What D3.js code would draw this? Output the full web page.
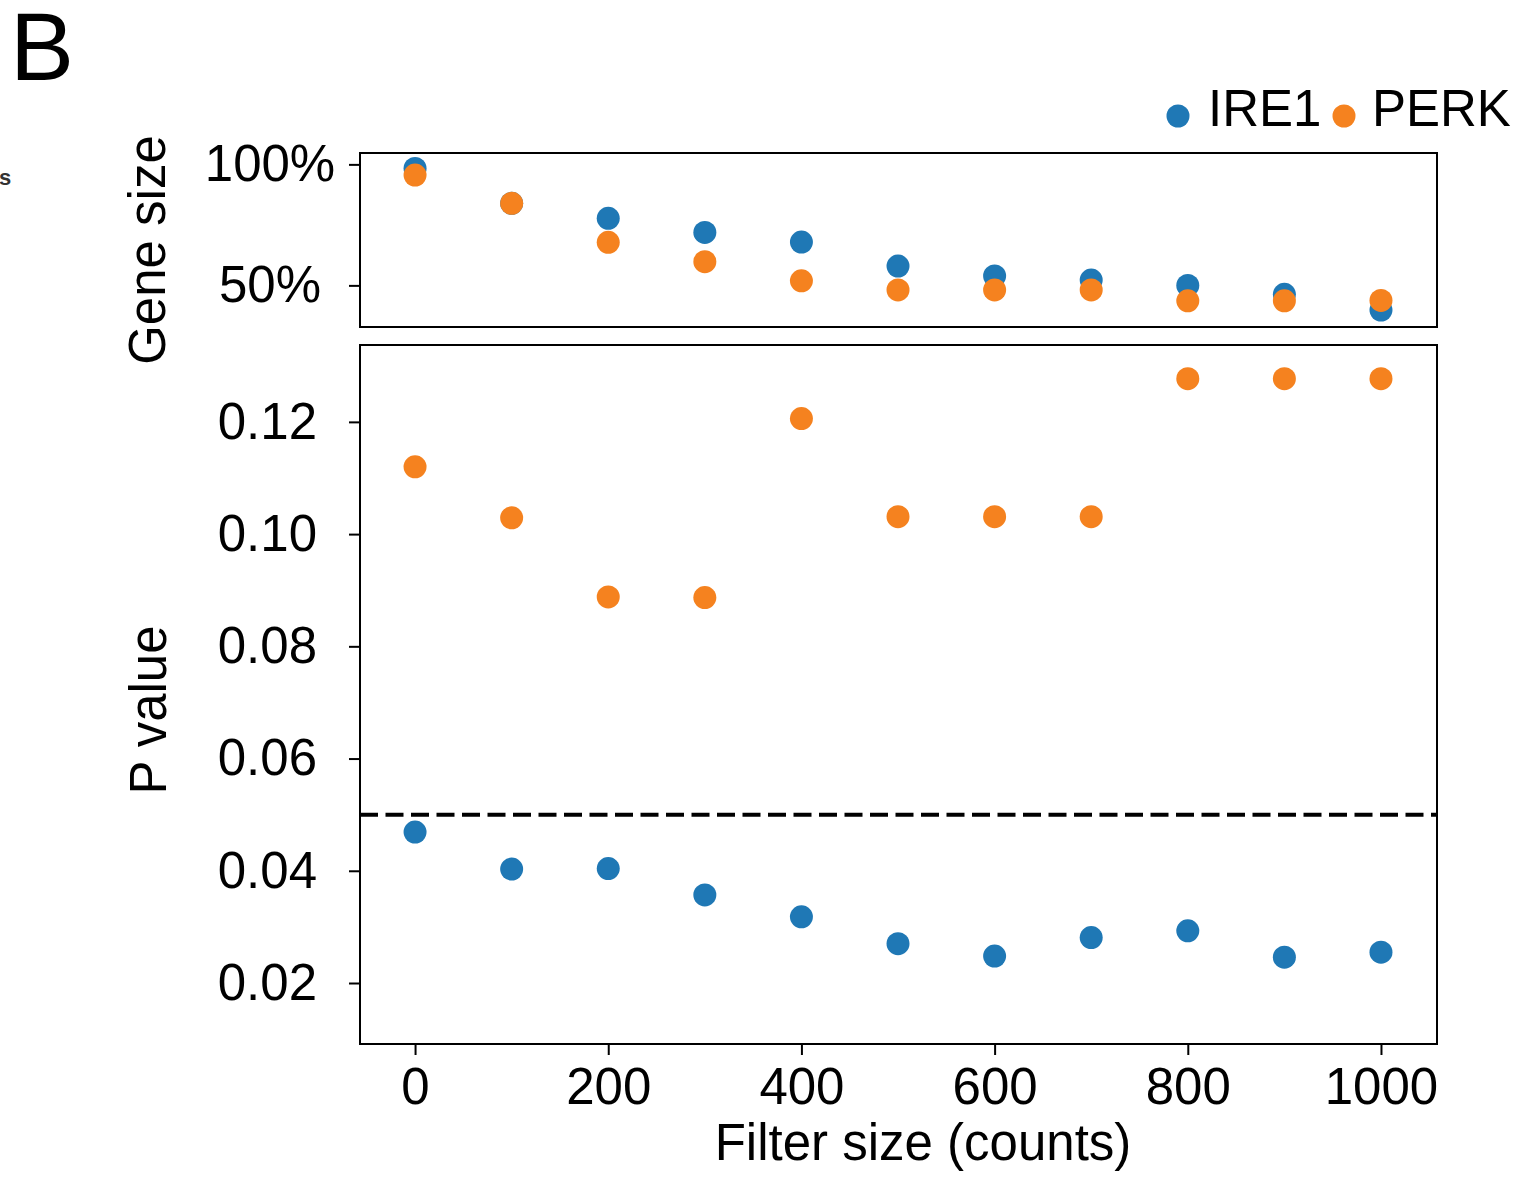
<!DOCTYPE html>
<html>
<head>
<meta charset="utf-8">
<script src="https://cdn.jsdelivr.net/npm/d3@7"></script>
<style>
  html, body { margin: 0; padding: 0; background: #fff; }
  svg { display: block; font-family: "Liberation Sans", Arial, Helvetica, sans-serif; }
</style>
</head>
<body>
<svg id="chart" width="1535" height="1177"></svg>
<script>
// Filter sizes (counts) on the shared x axis
const filterSizes = [0, 100, 200, 300, 400, 500, 600, 700, 800, 900, 1000];

// Gene size retained after filtering (%)
const geneSizeIRE1 = [98.3, 83.9, 77.7, 71.9, 67.9, 58.0, 53.9, 52.2, 50.0, 46.3, 39.8];
const geneSizePERK = [95.6, 83.9, 67.8, 59.8, 51.9, 48.1, 48.1, 48.1, 43.6, 43.6, 43.8];

// P values
const pValueIRE1 = [0.0469, 0.0403, 0.0404, 0.0357, 0.0318, 0.0270, 0.0248, 0.0281, 0.0293, 0.0246, 0.0255];
const pValuePERK = [0.1120, 0.1029, 0.0888, 0.0887, 0.1206, 0.1031, 0.1031, 0.1031, 0.1277, 0.1277, 0.1277];

const significance = 0.05;

// Tick values
const xTicks = [0, 200, 400, 600, 800, 1000];
const geneTicks = [50, 100];
const pTicks = [0.02, 0.04, 0.06, 0.08, 0.10, 0.12];

const colors = { IRE1: "#1f78b5", PERK: "#f5821f" };

const svg = d3.select("#chart");

const left = 360, right = 1437;
const topPanel = { top: 153, bottom: 327 };
const botPanel = { top: 345, bottom: 1044 };

const x = d3.scaleLinear().domain([-57, 1058]).range([left, right]);
const yGene = d3.scaleLinear().domain([32.8, 104.7]).range([topPanel.bottom, topPanel.top]);
const yP = d3.scaleLinear().domain([0.00913, 0.1337]).range([botPanel.bottom, botPanel.top]);

const R = 11.5;
const FS = 51;

function frame(p) {
  svg.append("rect")
    .attr("x", left).attr("y", p.top)
    .attr("width", right - left).attr("height", p.bottom - p.top)
    .attr("fill", "none").attr("stroke", "#000").attr("stroke-width", 2);
}

function styleAxis(g) {
  g.select(".domain").remove();
  g.selectAll(".tick line").attr("stroke", "#000").attr("stroke-width", 2);
  g.selectAll(".tick text").attr("fill", "#000").attr("font-size", FS);
}

// ---- top panel: gene size ----
frame(topPanel);
const gAxisTop = svg.append("g")
  .attr("transform", `translate(${left},0)`)
  .call(d3.axisLeft(yGene).tickValues(geneTicks).tickFormat(d => d + "%").tickSize(11).tickPadding(20));
styleAxis(gAxisTop);
gAxisTop.selectAll(".tick text").attr("text-anchor", "middle").attr("x", -90);

const topData = [
  { name: "IRE1", values: geneSizeIRE1 },
  { name: "PERK", values: geneSizePERK }
];
topData.forEach(s => {
  svg.append("g").selectAll("circle")
    .data(filterSizes.map((f, i) => ({ f, v: s.values[i] })))
    .join("circle")
    .attr("cx", d => x(d.f)).attr("cy", d => yGene(d.v))
    .attr("r", R).attr("fill", colors[s.name]);
});

svg.append("text")
  .attr("transform", `translate(165,250) rotate(-90)`)
  .attr("text-anchor", "middle").attr("font-size", FS).attr("fill", "#000")
  .text("Gene size");

// ---- bottom panel: P value ----
frame(botPanel);
const gAxisP = svg.append("g")
  .attr("transform", `translate(${left},0)`)
  .call(d3.axisLeft(yP).tickValues(pTicks).tickFormat(d3.format(".2f")).tickSize(11).tickPadding(32));
styleAxis(gAxisP);

const gAxisX = svg.append("g")
  .attr("transform", `translate(0,${botPanel.bottom})`)
  .call(d3.axisBottom(x).tickValues(xTicks).tickFormat(d3.format("d")).tickSize(11).tickPadding(13));
styleAxis(gAxisX);

svg.append("line")
  .attr("x1", left).attr("x2", right)
  .attr("y1", yP(significance)).attr("y2", yP(significance))
  .attr("stroke", "#000").attr("stroke-width", 4)
  .attr("stroke-dasharray", "18,7.5");

const botData = [
  { name: "IRE1", values: pValueIRE1 },
  { name: "PERK", values: pValuePERK }
];
botData.forEach(s => {
  svg.append("g").selectAll("circle")
    .data(filterSizes.map((f, i) => ({ f, v: s.values[i] })))
    .join("circle")
    .attr("cx", d => x(d.f)).attr("cy", d => yP(d.v))
    .attr("r", R).attr("fill", colors[s.name]);
});

svg.append("text")
  .attr("transform", `translate(166,710) rotate(-90)`)
  .attr("text-anchor", "middle").attr("font-size", FS).attr("fill", "#000")
  .text("P value");

svg.append("text")
  .attr("x", 923).attr("y", 1160)
  .attr("text-anchor", "middle").attr("font-size", FS).attr("fill", "#000")
  .text("Filter size (counts)");

// ---- legend ----
const legendPos = [
  { name: "IRE1", cx: 1178, tx: 1208 },
  { name: "PERK", cx: 1344, tx: 1372 }
];
legendPos.forEach(l => {
  svg.append("circle").attr("cx", l.cx).attr("cy", 116).attr("r", R).attr("fill", colors[l.name]);
  svg.append("text").attr("x", l.tx).attr("y", 126)
    .attr("font-size", FS).attr("fill", "#000").text(l.name);
});

// ---- panel letter and neighbouring fragment ----
svg.append("text").attr("x", 10).attr("y", 80)
  .attr("font-size", 96).attr("fill", "#000").text("B");
svg.append("text").attr("x", -1).attr("y", 185)
  .attr("font-size", 22).attr("font-weight", "bold").attr("fill", "#333").text("s");
</script>
</body>
</html>
